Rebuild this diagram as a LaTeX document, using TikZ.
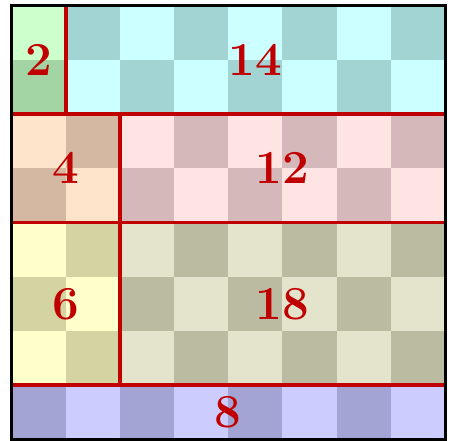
\documentclass[tikz,border=0pt]{standalone}
\definecolor{greenlt}{HTML}{CCFFCC}\definecolor{greendk}{HTML}{A3D4A3}
\definecolor{cyanlt}{HTML}{CCFFFF}\definecolor{cyandk}{HTML}{A3D4D4}
\definecolor{peachlt}{HTML}{FFE4CC}\definecolor{peachdk}{HTML}{D4B8A2}
\definecolor{pinklt}{HTML}{FFE4E4}\definecolor{pinkdk}{HTML}{D5B8BA}
\definecolor{yellowlt}{HTML}{FFFFCC}\definecolor{yellowdk}{HTML}{D4D4A2}
\definecolor{olivelt}{HTML}{E4E4CC}\definecolor{olivedk}{HTML}{BBBBA2}
\definecolor{bluelt}{HTML}{CCCCFF}\definecolor{bluedk}{HTML}{A3A3D4}
\definecolor{linered}{HTML}{C00000}
\begin{document}
\begin{tikzpicture}[every node/.style={font=\Huge\bfseries,text=linered}]
  \useasboundingbox (-0.21,-0.024) rectangle (8.09,8.105);
  % blocks, each one checkered
  \foreach \xa/\ya/\xb/\yb/\lc/\dc in {0/6/1/8/greenlt/greendk,1/6/8/8/cyanlt/cyandk,
      0/4/2/6/peachlt/peachdk,2/4/8/6/pinklt/pinkdk,0/1/2/4/yellowlt/yellowdk,
      2/1/8/4/olivelt/olivedk,0/0/8/1/bluelt/bluedk} {
    \fill[\lc] (\xa,\ya) rectangle (\xb,\yb);
    \begin{scope}
      \clip (\xa,\ya) rectangle (\xb,\yb);
      \foreach \i in {0,...,7}
        \foreach \j in {0,...,3} {
          \pgfmathtruncatemacro\yc{2*\j+mod(\i,2)}
          \fill[\dc] (\i,\yc) rectangle ++(1,1);
        }
    \end{scope}
  }
  \draw[linered,line width=2pt] (0,6) -- (8,6) (0,4) -- (8,4) (0,1) -- (8,1)
    (1,6) -- (1,8) (2,1) -- (2,6);
  \draw[line width=1.6pt] (0,0) rectangle (8,8);
  \node (two) at (0.5,7) {2};
  \node (fourteen) at (4.5,7) {14};
  \node (four) at (1,5) {4};
  \node (twelve) at (5,5) {12};
  \node (six) at (1,2.5) {6};
  \node (eighteen) at (5,2.5) {18};
  \node (eight) at (4,0.5) {8};
\end{tikzpicture}
\end{document}
